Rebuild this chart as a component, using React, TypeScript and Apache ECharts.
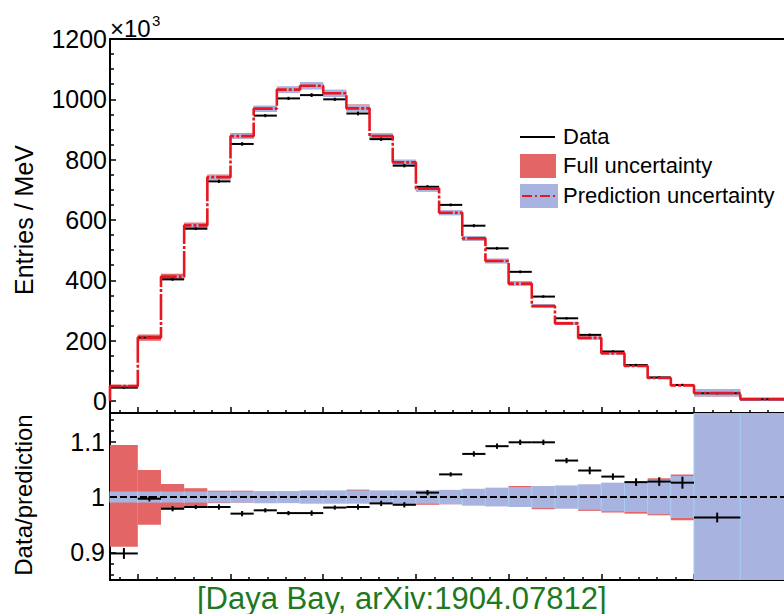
import React, { useEffect, useRef } from 'react';
import * as echarts from 'echarts';

// Prompt energy bins (MeV)
const binLo = [0.7, 1.0, 1.25, 1.5, 1.75, 2.0, 2.25, 2.5, 2.75, 3.0, 3.25, 3.5, 3.75, 4.0, 4.25, 4.5, 4.75, 5.0, 5.25, 5.5, 5.75, 6.0, 6.25, 6.5, 6.75, 7.0, 7.5];
const binHi = [1.0, 1.25, 1.5, 1.75, 2.0, 2.25, 2.5, 2.75, 3.0, 3.25, 3.5, 3.75, 4.0, 4.25, 4.5, 4.75, 5.0, 5.25, 5.5, 5.75, 6.0, 6.25, 6.5, 6.75, 7.0, 7.5, 12.0];

// Entries / MeV (x10^3)
const dataEntries = [44, 210, 403, 571, 728, 852, 946, 1003, 1014, 1000, 953, 868, 780, 710, 650, 581, 506, 428, 346, 274, 219, 164, 119, 78, 53, 25.5, 5.6];
const predEntries = [49, 210, 412, 582, 742, 878, 969, 1032, 1045, 1020, 970, 878, 791, 704, 624, 539, 464, 389, 315, 257, 209, 158, 116, 76, 51.5, 26.5, 5.6];

// Data / prediction
const ratioVals = [0.898, 0.997, 0.979, 0.982, 0.982, 0.970, 0.976, 0.971, 0.971, 0.981, 0.982, 0.9885, 0.986, 1.008, 1.041, 1.078, 1.092, 1.099, 1.099, 1.066, 1.048, 1.037, 1.027, 1.028, 1.026, 0.963, null];
const ratioErr = [0.008, 0.003, 0.003, 0.002, 0.003, 0.003, 0.002, 0.002, 0.003, 0.002, 0.003, 0.003, 0.003, 0.003, 0.002, 0.003, 0.003, 0.003, 0.003, 0.003, 0.005, 0.004, 0.005, 0.006, 0.009, 0.007, 0];

// Full uncertainty band (relative, upper / lower)
const fullUp = [1.094, 1.049, 1.0236, 1.016, 1.0115, 1.0115, 1.009, 1.009, 1.009, 1.009, 1.0135, 1.009, 1.008, 1.008, 1.012, 1.014, 1.016, 1.020, 1.019, 1.020, 1.022, 1.025, 1.026, 1.034, 1.041, 1.45, 2.0];
const fullLo = [0.910, 0.950, 0.977, 0.983, 0.989, 0.990, 0.991, 0.991, 0.991, 0.991, 0.991, 0.990, 0.986, 0.986, 0.987, 0.985, 0.984, 0.983, 0.978, 0.980, 0.975, 0.972, 0.970, 0.967, 0.958, 0.55, 0.0];
// Prediction uncertainty (relative half width)
const predHW = [0.010, 0.010, 0.010, 0.010, 0.010, 0.010, 0.011, 0.011, 0.012, 0.012, 0.012, 0.012, 0.012, 0.012, 0.013, 0.015, 0.017, 0.018, 0.020, 0.021, 0.023, 0.026, 0.027, 0.031, 0.038, 0.45, 1.0];

// Ticks
const xMajor = [1, 2, 3, 4, 5, 6, 7, 8, 9, 10, 11, 12];
const xMinor: number[] = [];
for (let i = 4; i < 60; i++) { if (i % 5 !== 0) xMinor.push(i / 5); }
const yTopMajor = [0, 200, 400, 600, 800, 1000, 1200];
const yTopMinor = [50, 100, 150, 250, 300, 350, 450, 500, 550, 650, 700, 750, 850, 900, 950, 1050, 1100, 1150];
const yBotMajor = [0.9, 1, 1.1];
const yBotMinor = [0.86, 0.88, 0.92, 0.94, 0.96, 0.98, 1.02, 1.04, 1.06, 1.08, 1.12, 1.14];

const FONT = 'Liberation Sans, Arial, Helvetica, sans-serif';
const RED_FILL = '#e36565';
const BLUE_FILL = '#a9b3df';
const RED_LINE = '#e8161e';
const X_MIN = 0.7;
const X_MAX = 12;
const PX_PER_MEV = 92.7;
const GRID_W = (X_MAX - X_MIN) * PX_PER_MEV;
const CHART_W = Math.ceil(110 + GRID_W + 10);

function clampRect(a: number[], b: number[], cs: any) {
  const x1 = Math.max(Math.min(a[0], b[0]), cs.x);
  const x2 = Math.min(Math.max(a[0], b[0]), cs.x + cs.width);
  const y1 = Math.max(Math.min(a[1], b[1]), cs.y);
  const y2 = Math.min(Math.max(a[1], b[1]), cs.y + cs.height);
  return { x: x1, y: y1, width: Math.max(0, x2 - x1), height: Math.max(0, y2 - y1) };
}

function bandSeries(xi: number, yi: number, data: number[][], fill: string, edges: boolean) {
  return {
    type: 'custom',
    xAxisIndex: xi,
    yAxisIndex: yi,
    data,
    renderItem: (params: any, api: any) => {
      const cs = params.coordSys;
      const a = api.coord([api.value(0), api.value(3)]);
      const b = api.coord([api.value(1), api.value(2)]);
      const r = clampRect(a, b, cs);
      const children: any[] = [{ type: 'rect', shape: r, style: { fill } }];
      if (edges) {
        children.push({ type: 'line', shape: { x1: r.x, y1: r.y, x2: r.x, y2: r.y + r.height }, style: { stroke: '#a6cdf2', lineWidth: 1 } });
        children.push({ type: 'line', shape: { x1: r.x + r.width, y1: r.y, x2: r.x + r.width, y2: r.y + r.height }, style: { stroke: '#a6cdf2', lineWidth: 1 } });
      }
      return { type: 'group', children };
    },
  };
}

function pointSeries(xi: number, yi: number, data: number[][]) {
  return {
    type: 'custom',
    xAxisIndex: xi,
    yAxisIndex: yi,
    data,
    renderItem: (params: any, api: any) => {
      const lo = api.value(0), hi = api.value(1), v = api.value(2), e = api.value(3);
      const p1 = api.coord([lo, v]);
      const p2 = api.coord([hi, v]);
      const c = (lo + hi) / 2;
      const e1 = api.coord([c, v + e]);
      const e2 = api.coord([c, v - e]);
      return {
        type: 'group',
        children: [
          { type: 'line', shape: { x1: p1[0], y1: p1[1], x2: p2[0], y2: p2[1] }, style: { stroke: '#000', lineWidth: 2 } },
          { type: 'line', shape: { x1: e1[0], y1: e1[1] - 1, x2: e2[0], y2: e2[1] + 1 }, style: { stroke: '#000', lineWidth: 2 } },
        ],
      };
    },
  };
}

function xAxisPair(gridIndex: number) {
  return [
    {
      type: 'value', gridIndex, position: 'bottom', min: X_MIN, max: X_MAX,
      axisLine: { show: true, onZero: false, lineStyle: { color: '#000', width: 2 } },
      axisTick: { show: true, inside: true, length: 6, customValues: xMajor, lineStyle: { color: '#000', width: 1.5 } },
      axisLabel: { show: false }, splitLine: { show: false },
    },
    {
      type: 'value', gridIndex, position: 'bottom', min: X_MIN, max: X_MAX,
      axisLine: { show: false, onZero: false },
      axisTick: { show: true, inside: true, length: 3, customValues: xMinor, lineStyle: { color: '#000', width: 1.5 } },
      axisLabel: { show: false }, splitLine: { show: false },
    },
  ];
}

function yAxisPair(gridIndex: number, min: number, max: number, major: number[], minor: number[], margin: number) {
  return [
    {
      type: 'value', gridIndex, position: 'left', min, max,
      axisLine: { show: true, onZero: false, lineStyle: { color: '#000', width: 2 } },
      axisTick: { show: true, inside: true, length: 6, customValues: major, lineStyle: { color: '#000', width: 1.5 } },
      axisLabel: {
        show: true, customValues: major, margin, color: '#000', fontSize: 25, fontFamily: FONT,
        showMinLabel: true, showMaxLabel: true, formatter: (v: number) => String(v),
      },
      splitLine: { show: false },
    },
    {
      type: 'value', gridIndex, position: 'left', min, max,
      axisLine: { show: false, onZero: false },
      axisTick: { show: true, inside: true, length: 4, customValues: minor, lineStyle: { color: '#000', width: 1.5 } },
      axisLabel: { show: false }, splitLine: { show: false },
    },
  ];
}

function buildOption() {
  const idx = binLo.map((_, i) => i);
  const topFull = idx.map(i => [binLo[i], binHi[i], predEntries[i] * fullLo[i], predEntries[i] * fullUp[i]]);
  const topPred = idx.map(i => [binLo[i], binHi[i], predEntries[i] * (1 - predHW[i]), predEntries[i] * (1 + predHW[i])]);
  const topData = idx.map(i => [binLo[i], binHi[i], dataEntries[i], dataEntries[i] * ratioErr[i]]);
  const stepLine: number[][] = [[binLo[0], 0]];
  idx.forEach(i => stepLine.push([binLo[i], predEntries[i]]));
  stepLine.push([binHi[binHi.length - 1], predEntries[predEntries.length - 1]]);
  stepLine.push([binHi[binHi.length - 1], 0]);

  const botFull = idx.map(i => [binLo[i], binHi[i], fullLo[i], fullUp[i]]);
  const botPred = idx.map(i => [binLo[i], binHi[i], 1 - predHW[i], 1 + predHW[i]]);
  const botData = idx.filter(i => ratioVals[i] !== null).map(i => [binLo[i], binHi[i], ratioVals[i] as number, ratioErr[i]]);

  const txt = (text: string, x: number, y: number, size: number, extra: any = {}) => ({
    type: 'text', x, y, z: 100, rotation: extra.rotation || 0,
    style: { text, fill: extra.fill || '#000', fontSize: size, fontFamily: FONT, align: extra.align || 'left', verticalAlign: 'middle' },
  });

  return {
    animation: false,
    backgroundColor: '#fff',
    grid: [
      { left: 110, top: 39, width: GRID_W, height: 374 },
      { left: 110, top: 413, width: GRID_W, height: 167 },
    ],
    xAxis: [
      ...xAxisPair(0),
      {
        type: 'value', gridIndex: 0, position: 'top', min: X_MIN, max: X_MAX,
        axisLine: { show: true, onZero: false, lineStyle: { color: '#000', width: 2 } },
        axisTick: { show: false }, axisLabel: { show: false }, splitLine: { show: false },
      },
      ...xAxisPair(1),
    ],
    yAxis: [
      ...yAxisPair(0, -40, 1200, yTopMajor, yTopMinor, 3),
      ...yAxisPair(1, 0.85, 1.152, yBotMajor, yBotMinor, 5),
    ],
    series: [
      bandSeries(0, 0, topFull, RED_FILL, false),
      bandSeries(0, 0, topPred, BLUE_FILL, false),
      {
        type: 'line', xAxisIndex: 0, yAxisIndex: 0, data: stepLine, step: 'end',
        symbol: 'none', showSymbol: false,
        lineStyle: { color: RED_LINE, width: 2.6, type: [26, 2, 3, 2] },
      },
      pointSeries(0, 0, topData),
      bandSeries(3, 2, botFull, RED_FILL, false),
      bandSeries(3, 2, botPred, BLUE_FILL, true),
      {
        type: 'line', xAxisIndex: 3, yAxisIndex: 2, data: [[X_MIN, 1], [X_MAX, 1]],
        symbol: 'none', showSymbol: false,
        lineStyle: { color: '#000', width: 2, type: [7, 3] },
      },
      pointSeries(3, 2, botData),
    ],
    graphic: [
      txt('×10', 110, 28, 24),
      txt('3', 152, 20, 15),
      txt('Entries / MeV', 24, 220, 25, { rotation: Math.PI / 2, align: 'center' }),
      txt('Data/prediction', 23, 495, 24, { rotation: Math.PI / 2, align: 'center' }),
      { type: 'line', z: 100, shape: { x1: 520, y1: 137, x2: 555, y2: 137 }, style: { stroke: '#000', lineWidth: 2 } },
      txt('Data', 563, 136, 22),
      { type: 'rect', z: 100, shape: { x: 520, y: 154, width: 36, height: 24 }, style: { fill: RED_FILL } },
      txt('Full uncertainty', 563, 165, 22),
      { type: 'rect', z: 100, shape: { x: 520, y: 184, width: 38, height: 24 }, style: { fill: BLUE_FILL } },
      { type: 'line', z: 101, shape: { x1: 522, y1: 196, x2: 556, y2: 196 }, style: { stroke: RED_LINE, lineWidth: 2, lineDash: [10, 3, 2, 3] } },
      txt('Prediction uncertainty', 563, 195, 22),
      txt('[Daya Bay, arXiv:1904.07812]', 197, 598, 31, { fill: '#1e781e' }),
    ],
  };
}

export default function App() {
  const ref = useRef<HTMLDivElement>(null);
  useEffect(() => {
    if (!ref.current) return;
    const chart = echarts.init(ref.current, null, { renderer: 'svg' });
    chart.setOption(buildOption() as any);
    return () => chart.dispose();
  }, []);
  return (
    <div style={{ position: 'fixed', left: 0, top: 0, width: 784, height: 614, background: '#fff', overflow: 'hidden' }}>
      <div ref={ref} style={{ position: 'absolute', left: 0, top: 0, width: CHART_W, height: 614 }} />
    </div>
  );
}
